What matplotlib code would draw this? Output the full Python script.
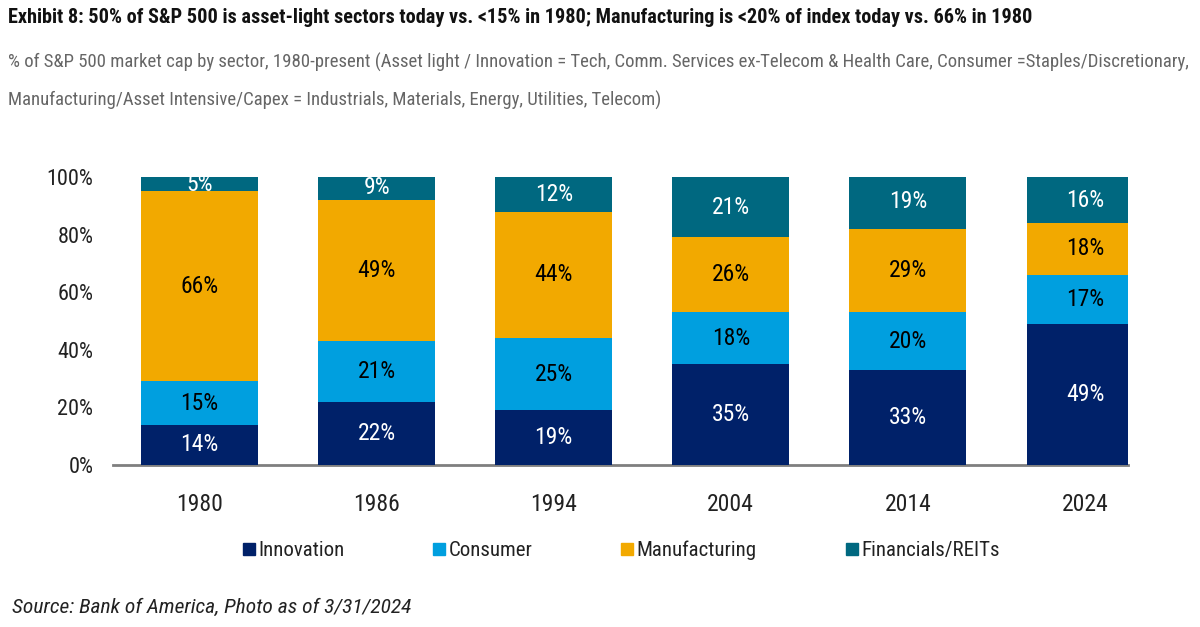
import os
import matplotlib
matplotlib.use("Agg")
import matplotlib.pyplot as plt
from matplotlib import font_manager as fm
from matplotlib.lines import Line2D
import numpy as np

years = ["1980", "1986", "1994", "2004", "2014", "2024"]
series_names = ["Innovation", "Consumer", "Manufacturing", "Financials/REITs"]
innovation = [14, 22, 19, 35, 33, 49]
consumer = [15, 21, 25, 18, 20, 17]
manufacturing = [66, 49, 44, 26, 29, 18]
financials = [5, 9, 12, 21, 19, 16]
yticks = [0, 20, 40, 60, 80, 100]

colors = ["#002169", "#009FDF", "#F2A900", "#006880"]
text_colors = ["white", "black", "black", "white"]

title = "Exhibit 8: 50% of S&P 500 is asset-light sectors today vs. <15% in 1980; Manufacturing is <20% of index today vs. 66% in 1980"
sub1 = "% of S&P 500 market cap by sector, 1980-present (Asset light / Innovation = Tech, Comm. Services ex-Telecom & Health Care, Consumer =Staples/Discretionary,"
sub2 = "Manufacturing/Asset Intensive/Capex = Industrials, Materials, Energy, Utilities, Telecom)"
source = "Source: Bank of America, Photo as of 3/31/2024"


def find_font(bold=False, italic=False):
    prefs = ["liberation", "arial", "roboto", "opensans", "open sans", "noto", "dejavu", ""]
    cands = []
    for f in fm.fontManager.ttflist:
        base = os.path.basename(f.fname).lower()
        nm = (f.name + " " + base).lower()
        if not ("narrow" in nm or "condensed" in nm or f.stretch in ("condensed", "semi-condensed", "extra-condensed")):
            continue
        if "mono" in nm or ("serif" in nm and "sans" not in nm) or "cjk" in nm:
            continue
        if any(k in base for k in ("semibold", "extrabold", "light", "thin", "black", "medium", "extralight")):
            continue
        is_bold = "bold" in base
        is_ital = "italic" in base or "oblique" in base
        if is_bold != bold or is_ital != italic:
            continue
        rank = next(i for i, p in enumerate(prefs) if p in nm)
        if "extra" in nm or "semi" in nm or "ultra" in nm:
            rank += 0.5
        cands.append((rank, f.fname))
    if cands:
        cands.sort()
        return cands[0][1]
    return None


def fprop(size, bold=False, italic=False):
    p = find_font(bold, italic)
    if p is None and italic:
        p = find_font(bold, False)
    if p is not None:
        return fm.FontProperties(fname=p, size=size)
    return fm.FontProperties(family="DejaVu Sans", size=size,
                             weight="bold" if bold else "normal",
                             style="italic" if italic else "normal")


fig = plt.figure(figsize=(12, 6.27), dpi=100)
ax = fig.add_axes([0.094, 0.2584, 0.846, 0.4593])

x = np.arange(len(years))
bottom = np.zeros(len(years))
for vals, col, tcol in zip([innovation, consumer, manufacturing, financials], colors, text_colors):
    vals = np.array(vals, dtype=float)
    ax.bar(x, vals, width=0.66, bottom=bottom, color=col, edgecolor="none", zorder=2)
    for xi, b, v in zip(x, bottom, vals):
        ax.text(xi, b + v / 2, f"{int(v)}%", ha="center", va="center",
                color=tcol, fontproperties=fprop(17), zorder=3)
    bottom += vals

ax.set_xlim(-0.49, 5.243)
ax.set_ylim(0, 100)
ax.set_yticks(yticks)
ax.set_yticklabels([f"{t}%" for t in yticks], fontproperties=fprop(16), color="#222222")
ax.set_xticks(x)
ax.set_xticklabels(years, fontproperties=fprop(17), color="#222222")
ax.tick_params(axis="both", length=0)
ax.tick_params(axis="y", pad=14)
ax.tick_params(axis="x", pad=20)
for s in ["top", "right", "left"]:
    ax.spines[s].set_visible(False)
ax.spines["bottom"].set_color("#7f7f7f")
ax.spines["bottom"].set_linewidth(2)
ax.spines["bottom"].set_zorder(1)

handles = [Line2D([0], [0], marker="s", linestyle="none", markersize=8,
                  markerfacecolor=c, markeredgecolor=c) for c in colors]
leg = fig.legend(handles, series_names, loc="center", bbox_to_anchor=(0.518, 0.122),
                 ncol=4, frameon=False, handletextpad=0.2, columnspacing=4.3,
                 handlelength=0.5, prop=fprop(15))
for t in leg.get_texts():
    t.set_color("#222222")

t_title = fig.text(0.007, 0.972, title, ha="left", va="center",
                   fontproperties=fprop(18, bold=True), color="#111111")
t_sub1 = fig.text(0.007, 0.900, sub1, ha="left", va="center",
                  fontproperties=fprop(16), color="#666666")
t_sub2 = fig.text(0.007, 0.840, sub2, ha="left", va="center",
                  fontproperties=fprop(16), color="#666666")
t_src = fig.text(0.010, 0.032, source, ha="left", va="center",
                 fontproperties=fprop(16, italic=True), color="#222222")

# fit header/source widths to the reference layout
fig.canvas.draw()
r = fig.canvas.get_renderer()
for t, target in [(t_title, 1022), (t_sub1, 1185), (t_src, 401)]:
    w = t.get_window_extent(r).width
    t.set_fontsize(t.get_fontsize() * target / w)
t_sub2.set_fontsize(t_sub1.get_fontsize())

fig.savefig("out.png", dpi=100)
